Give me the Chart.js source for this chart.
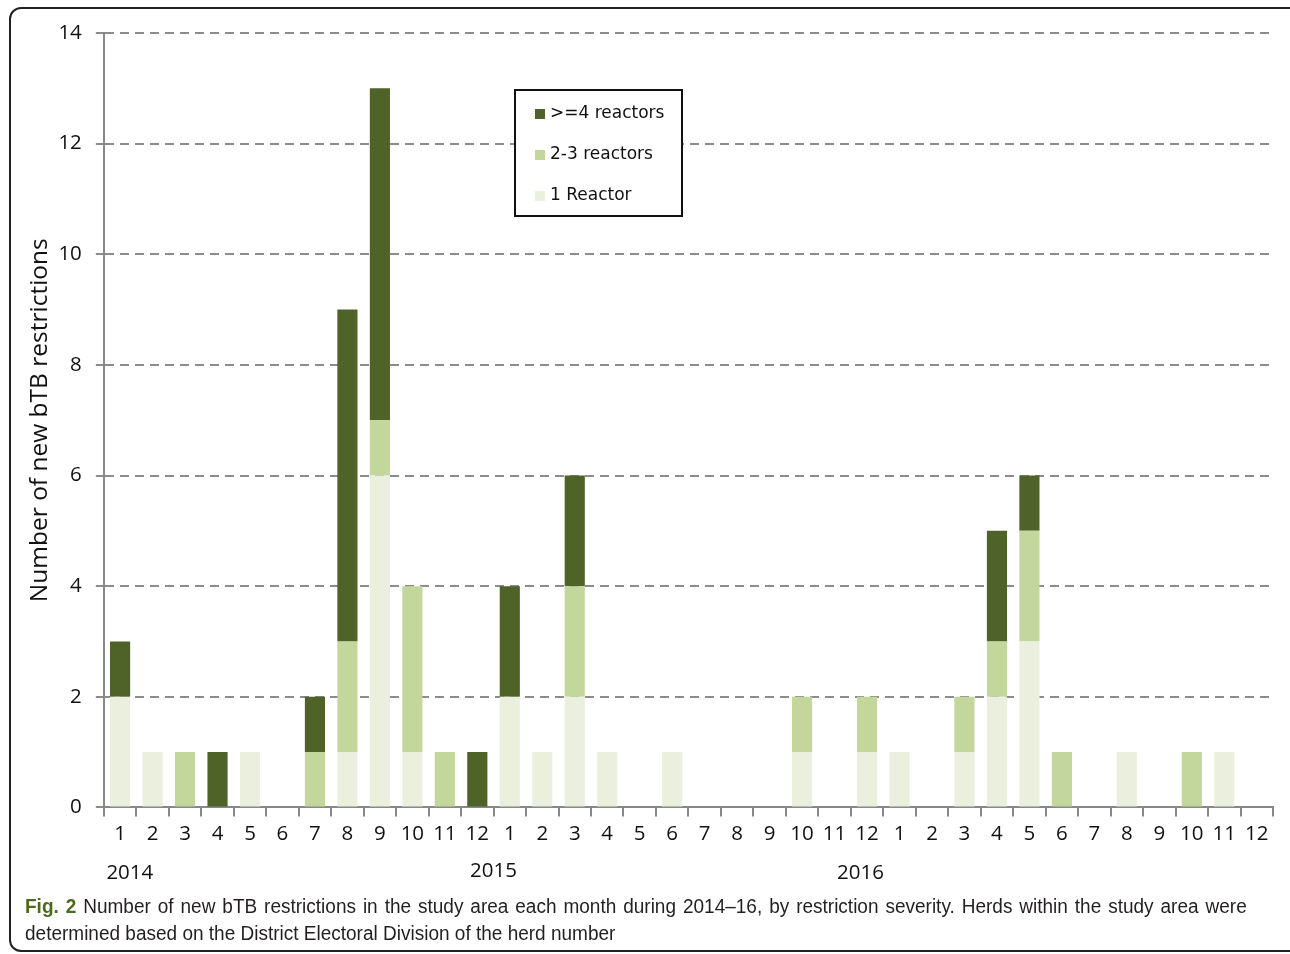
<!DOCTYPE html>
<html>
<head>
<meta charset="utf-8">
<script src="https://cdn.jsdelivr.net/npm/chart.js@4/dist/chart.umd.min.js"></script>
<style>
  html, body { margin: 0; padding: 0; background: #fff; }
  #wrap { position: relative; width: 1290px; height: 954px; overflow: hidden; }
  #frame {
    position: absolute; left: 9px; top: 7px; width: 1290px; height: 941px;
    border: 2px solid #222; border-radius: 12px;
  }
  #chart { position: absolute; left: 0; top: 0; }
  #caption {
    position: absolute; left: 25px; top: 893px; width: 1286px;
    font-family: 'Liberation Sans', Arial, sans-serif;
    font-size: 20px; line-height: 27px; color: #231f20; text-align: justify;
    text-align-last: left;
    transform: scaleX(0.95); transform-origin: 0 0;
  }
  #caption b { color: #4e6b1c; }
</style>
</head>
<body>
<div id="wrap">
  <div id="frame"></div>
  <canvas id="chart" width="1290" height="954"></canvas>
  <div id="caption"><b>Fig. 2</b> Number of new bTB restrictions in the study area each month during 2014–16, by restriction severity. Herds within the study area were determined based on the District Electoral Division of the herd number</div>
</div>
<script>
'use strict';

var MONTHS = ['1', '2', '3', '4', '5', '6', '7', '8', '9', '10', '11', '12',
  '1', '2', '3', '4', '5', '6', '7', '8', '9', '10', '11', '12',
  '1', '2', '3', '4', '5', '6', '7', '8', '9', '10', '11', '12'];
var YEARS = ['2014', '2015', '2016'];

// 2014 | 2015 | 2016
var ONE_REACTOR = [2, 1, 0, 0, 1, 0, 0, 1, 6, 1, 0, 0,
  2, 1, 2, 1, 0, 1, 0, 0, 0, 1, 0, 1,
  1, 0, 1, 2, 3, 0, 0, 1, 0, 0, 1, 0];
var TWO_THREE = [0, 0, 1, 0, 0, 0, 1, 2, 1, 3, 1, 0,
  0, 0, 2, 0, 0, 0, 0, 0, 0, 1, 0, 1,
  0, 0, 1, 1, 2, 1, 0, 0, 0, 1, 0, 0];
var FOUR_PLUS = [1, 0, 0, 1, 0, 0, 1, 6, 6, 0, 0, 1,
  2, 0, 2, 0, 0, 0, 0, 0, 0, 0, 0, 0,
  0, 0, 0, 2, 1, 0, 0, 0, 0, 0, 0, 0];

var COLORS = ['#ebf0de', '#c3d69b', '#4f6228'];
var FAMILY = "'Open Sans', sans-serif";
var TICK_FONT = { family: FAMILY, size: 20.5 };

// year labels under the month ticks, anchored to a category index
var yearLabels = {
  id: 'yearLabels',
  afterDraw: function (chart) {
    var ctx = chart.ctx;
    var x = chart.scales.x;
    var spots = [0.3, 11.5, 22.8];
    ctx.save();
    ctx.font = '20.5px ' + FAMILY;
    ctx.fillStyle = '#111';
    ctx.textAlign = 'center';
    ctx.textBaseline = 'middle';
    YEARS.forEach(function (y, i) {
      ctx.fillText(y, x.getPixelForValue(spots[i]), i === 1 ? 871 : 873);
    });
    ctx.restore();
  }
};

// boxed legend inside the plot, top series first
var boxLegend = {
  id: 'boxLegend',
  afterDraw: function (chart) {
    var ctx = chart.ctx;
    var sets = chart.data.datasets.slice().reverse();
    ctx.save();
    ctx.fillStyle = '#fff';
    ctx.fillRect(515, 90, 167, 126);
    ctx.strokeStyle = '#111';
    ctx.lineWidth = 2;
    ctx.strokeRect(515, 90, 167, 126);
    ctx.font = "17px 'DejaVu Sans', sans-serif";
    ctx.textBaseline = 'middle';
    sets.forEach(function (ds, i) {
      var cy = 114 + i * 41;
      ctx.fillStyle = ds.backgroundColor;
      ctx.fillRect(535, cy - 5, 10, 10);
      ctx.fillStyle = '#111';
      ctx.fillText(ds.label, 550, cy);
    });
    ctx.restore();
  }
};

function draw() {
  var ctx = document.getElementById('chart').getContext('2d');
  /* eslint-disable-next-line no-unused-vars */
  var myChart = new Chart(ctx, {
    type: 'bar',
    plugins: [yearLabels, boxLegend],
    data: {
      labels: MONTHS,
      datasets: [
        { label: '1 Reactor', data: ONE_REACTOR, backgroundColor: COLORS[0] },
        { label: '2-3 reactors', data: TWO_THREE, backgroundColor: COLORS[1] },
        { label: '>=4 reactors', data: FOUR_PLUS, backgroundColor: COLORS[2] },
      ],
    },
    options: {
      responsive: false,
      animation: false,
      layout: {
        padding: { left: 13, right: 17, top: 33, bottom: 103 },
      },
      datasets: {
        bar: { barPercentage: 0.62, categoryPercentage: 1 },
      },
      plugins: {
        legend: { display: false },
        tooltip: { enabled: false },
      },
      scales: {
        x: {
          stacked: true,
          grid: {
            offset: true,
            drawOnChartArea: false,
            drawTicks: true,
            tickLength: 9,
            color: '#888',
            lineWidth: 2,
          },
          border: { color: '#888', width: 2 },
          ticks: { color: '#111', font: TICK_FONT, padding: 5, maxRotation: 0, autoSkip: false },
        },
        y: {
          stacked: true,
          min: 0,
          max: 14,
          grid: { color: '#8c8c8c', lineWidth: 2, tickLength: 8 },
          border: { color: '#888', width: 2, dash: [9, 6] },
          ticks: { stepSize: 2, color: '#111', font: TICK_FONT, padding: 14 },
          title: {
            display: true,
            text: 'Number of new bTB restrictions',
            color: '#111',
            font: { family: FAMILY, size: 24.5 },
            padding: { top: 12, bottom: -10 },
          },
        },
      },
    },
  });
}

Promise.all([
  document.fonts.load('20px ' + FAMILY),
  document.fonts.load("17px 'DejaVu Sans'"),
]).then(draw, draw);
</script>
</body>
</html>
